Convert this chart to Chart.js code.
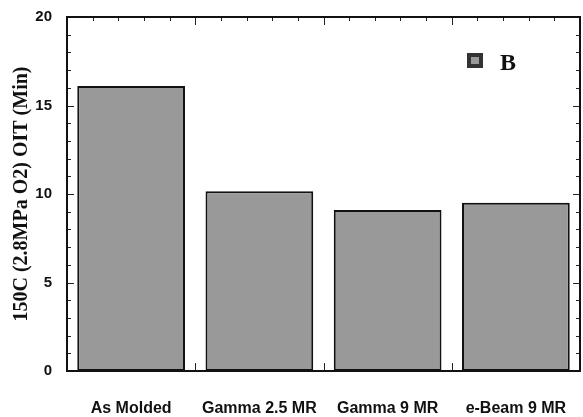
<!DOCTYPE html>
<html><head><meta charset="utf-8">
<script src="https://cdn.jsdelivr.net/npm/chart.js@4/dist/chart.umd.min.js"></script>
<style>html,body{margin:0;padding:0;background:#fff}#wrap{width:583px;height:417px}</style>
</head><body><div id="wrap"><canvas id="c" width="583" height="417"></canvas></div>
<script>
const categories = ["As Molded", "Gamma 2.5 MR", "Gamma 9 MR", "e-Beam 9 MR"];
const seriesB = [16.1, 10.15, 9.1, 9.5];
const seriesName = "B";
const yTicks = [0, 5, 10, 15, 20];
const yLabel = "150C (2.8MPa O2) OIT (Min)";

const tickPlugin = {
  id: 'ticksInward',
  afterDraw(chart) {
    const ctx = chart.ctx, a = chart.chartArea;
    const y = chart.scales.y, x = chart.scales.x;
    ctx.save();
    ctx.strokeStyle = '#222';
    ctx.lineWidth = 1;
    for (let v = yTicks[0]; v <= yTicks[yTicks.length-1]; v += 1) {
      const py = Math.round(y.getPixelForValue(v)) + 0.5;
      const major = yTicks.includes(v);
      const len = major ? 7 : 4;
      ctx.beginPath();
      ctx.moveTo(a.left, py); ctx.lineTo(a.left + len, py);
      ctx.moveTo(a.right, py); ctx.lineTo(a.right - len, py);
      ctx.stroke();
    }
    const n = categories.length;
    const w = (a.right - a.left) / n;
    for (let i = 0; i < n; i++) {
      const c = x.getPixelForValue(i);
      const start = c - w/2;
      for (let k = 1; k <= 5; k++) {
        const px = Math.round(start + k * w/5) + 0.5;
        const major = k === 5;
        if (major && i === n-1) continue;
        ctx.beginPath();
        ctx.moveTo(px, a.top); ctx.lineTo(px, a.top + (major ? 8 : 4));
        ctx.stroke();
        if (major) {
          ctx.beginPath();
          ctx.moveTo(px, a.bottom); ctx.lineTo(px, a.bottom - 8);
          ctx.stroke();
        }
      }
    }
    ctx.lineWidth = 2;
    ctx.strokeStyle = '#111';
    ctx.strokeRect(a.left, a.top, a.right - a.left, a.bottom - a.top);
    // y axis title
    ctx.save();
    ctx.translate(22, (a.top + a.bottom) / 2);
    ctx.rotate(-Math.PI/2);
    ctx.fillStyle = '#111';
    ctx.font = 'bold 20px "Liberation Serif"';
    ctx.textAlign = 'center';
    ctx.textBaseline = 'middle';
    ctx.fillText(yLabel, 0, 0);
    ctx.restore();
    // legend
    const ds = chart.data.datasets[0];
    ctx.fillStyle = '#333';
    ctx.fillRect(467, 53, 16, 15);
    ctx.fillStyle = ds.backgroundColor;
    ctx.fillRect(471, 57, 8, 7);
    ctx.fillStyle = '#111';
    ctx.font = 'bold 24px "Liberation Serif"';
    ctx.textBaseline = 'alphabetic';
    ctx.fillText(ds.label, 500, 70);
    ctx.restore();
  }
};

new Chart(document.getElementById('c'), {
  type: 'bar',
  data: {
    labels: categories,
    datasets: [{
      label: seriesName,
      data: seriesB,
      backgroundColor: '#999999',
      borderColor: '#111111',
      borderWidth: 2,
      borderSkipped: false,
      categoryPercentage: 1.0,
      barPercentage: 0.84
    }]
  },
  options: {
    responsive: false,
    animation: false,
    layout: { padding: { top: 17, right: 3, left: 0, bottom: 0 } },
    plugins: { legend: { display: false }, tooltip: { enabled: false } },
    scales: {
      x: {
        grid: { display: false, drawTicks: false },
        border: { display: false },
        ticks: { color: '#111', font: { family: '"Liberation Sans"', weight: 'bold', size: 16 }, padding: 28, maxRotation: 0 },
        afterFit(s) { s.height = 46; s.paddingLeft = 0; s.paddingRight = 0; }
      },
      y: {
        min: 0, max: 20,
        afterBuildTicks(s) { s.ticks = yTicks.map(v => ({ value: v })); },
        grid: { display: false, drawTicks: false },
        border: { display: false },
        ticks: { color: '#111', font: { family: '"Liberation Sans"', weight: 'bold', size: 15 }, padding: 15 },
        afterFit(s) { s.width = 67; s.paddingTop = 0; s.paddingBottom = 0; }
      }
    }
  },
  plugins: [tickPlugin]
});
</script></body></html>
